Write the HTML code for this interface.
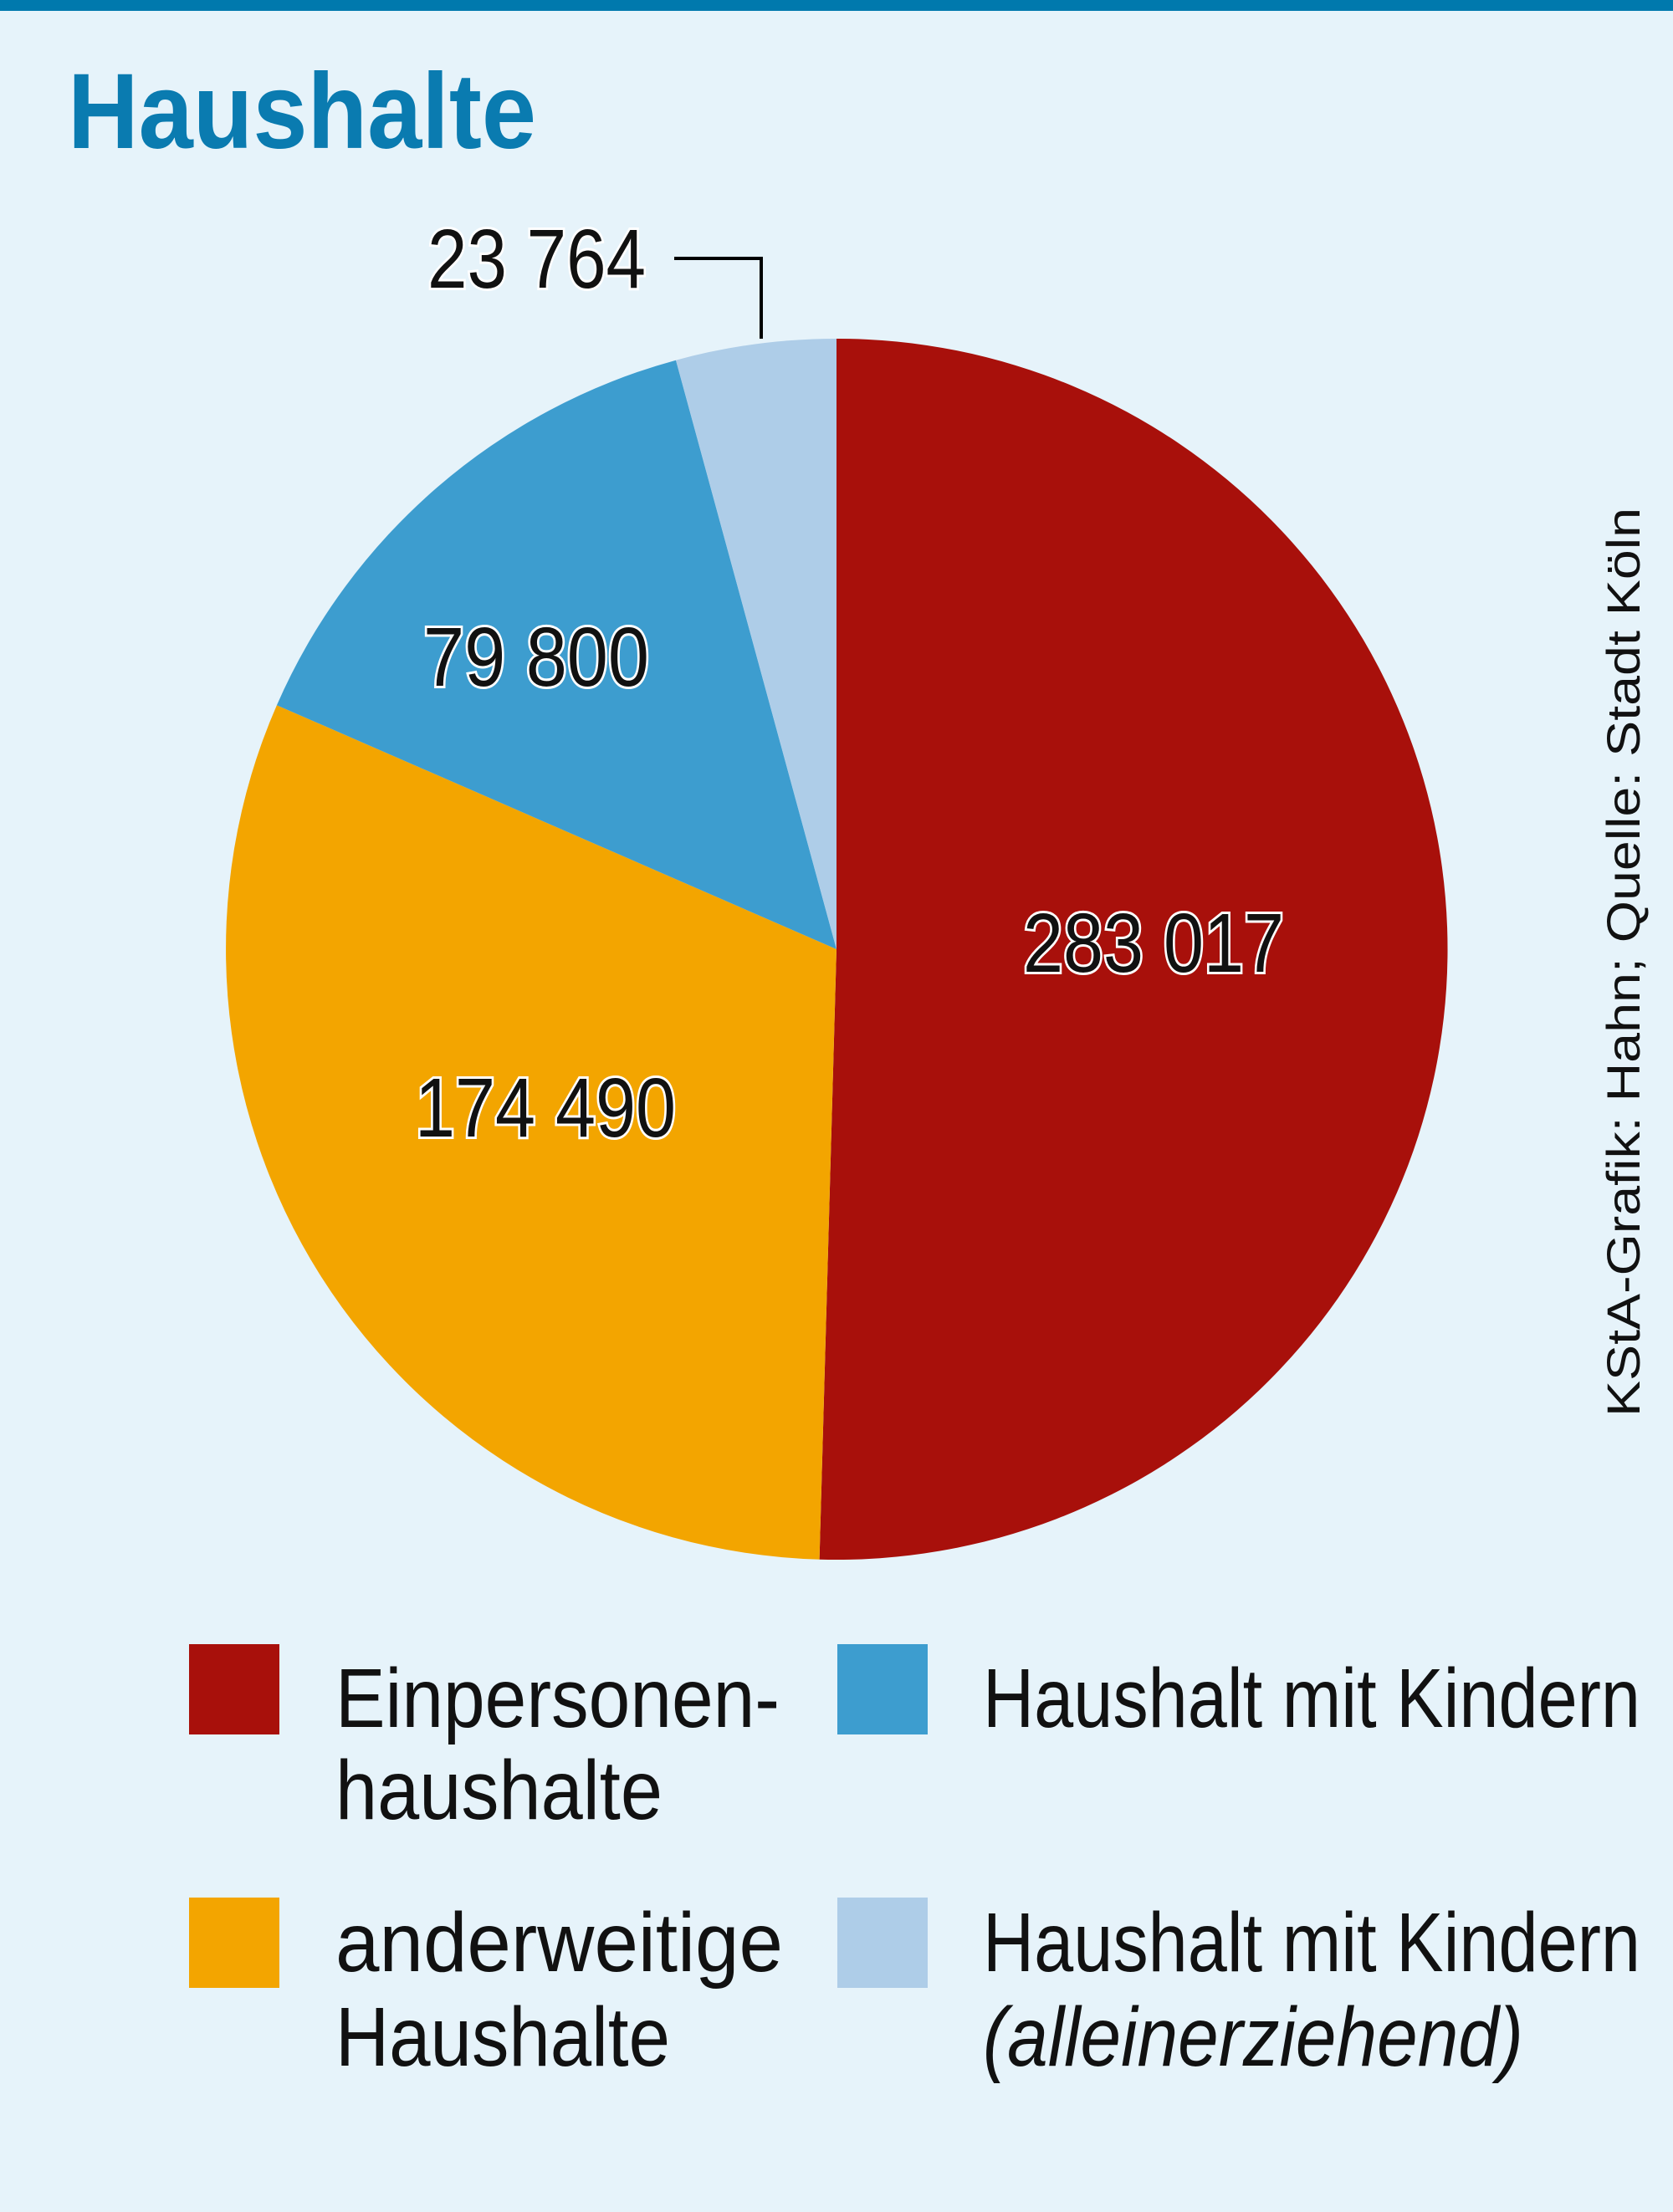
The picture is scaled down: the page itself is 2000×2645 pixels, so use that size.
<!DOCTYPE html>
<html><head><meta charset="utf-8"><style>
html,body{margin:0;padding:0;background:#e6f3fa;}
svg{display:block;}
text{font-family:"Liberation Sans",sans-serif;}
</style></head><body>
<svg width="2000" height="2645" viewBox="0 0 2000 2645" xmlns="http://www.w3.org/2000/svg">
<rect width="2000" height="2645" fill="#e6f3fa"/>
<rect width="2000" height="13" fill="#0079ad"/>
<text x="81" y="177" font-size="128" font-weight="bold" fill="#0a7bb0" textLength="560" lengthAdjust="spacingAndGlyphs">Haushalte</text>
<path d="M1000,1135 L1000,405 A730,730 0 1,1 979.6,1864.7 Z" fill="#a8100b"/>
<path d="M1000,1135 L979.6,1864.7 A730,730 0 0,1 330.9,843.2 Z" fill="#f3a500"/>
<path d="M1000,1135 L330.9,843.2 A730,730 0 0,1 808,430.7 Z" fill="#3d9dcf"/>
<path d="M1000,1135 L808,430.7 A730,730 0 0,1 1000,405 Z" fill="#aecde8"/>
<polyline points="806,309 910,309 910,405" fill="none" stroke="#000" stroke-width="4"/>
<g font-size="100" fill="#111" stroke="#fff" stroke-width="6" paint-order="stroke" lengthAdjust="spacingAndGlyphs">
<text x="511" y="344" textLength="261" lengthAdjust="spacingAndGlyphs">23 764</text>
<text x="1223" y="1162" textLength="312" lengthAdjust="spacingAndGlyphs">283 017</text>
<text x="506" y="820" textLength="270" lengthAdjust="spacingAndGlyphs">79 800</text>
<text x="496" y="1359" textLength="312" lengthAdjust="spacingAndGlyphs">174 490</text>
</g>
<text transform="translate(1960,1694) rotate(-90)" font-size="56" fill="#111" textLength="1087" lengthAdjust="spacingAndGlyphs">KStA-Grafik: Hahn; Quelle: Stadt Köln</text>
<rect x="226" y="1966" width="108" height="108" fill="#a8100b"/>
<rect x="1001" y="1966" width="108" height="108" fill="#3d9dcf"/>
<rect x="226" y="2269" width="108" height="108" fill="#f3a500"/>
<rect x="1001" y="2269" width="108" height="108" fill="#aecde8"/>
<g font-size="100" fill="#111">
<text x="401" y="2065" textLength="531" lengthAdjust="spacingAndGlyphs">Einpersonen-</text>
<text x="401" y="2175" textLength="391" lengthAdjust="spacingAndGlyphs">haushalte</text>
<text x="1175" y="2065" textLength="786" lengthAdjust="spacingAndGlyphs">Haushalt mit Kindern</text>
<text x="401" y="2357" textLength="535" lengthAdjust="spacingAndGlyphs">anderweitige</text>
<text x="401" y="2470" textLength="400" lengthAdjust="spacingAndGlyphs">Haushalte</text>
<text x="1175" y="2357" textLength="786" lengthAdjust="spacingAndGlyphs">Haushalt mit Kindern</text>
<text x="1175" y="2470" font-style="italic" textLength="646" lengthAdjust="spacingAndGlyphs">(alleinerziehend)</text>
</g>
</svg>
</body></html>
